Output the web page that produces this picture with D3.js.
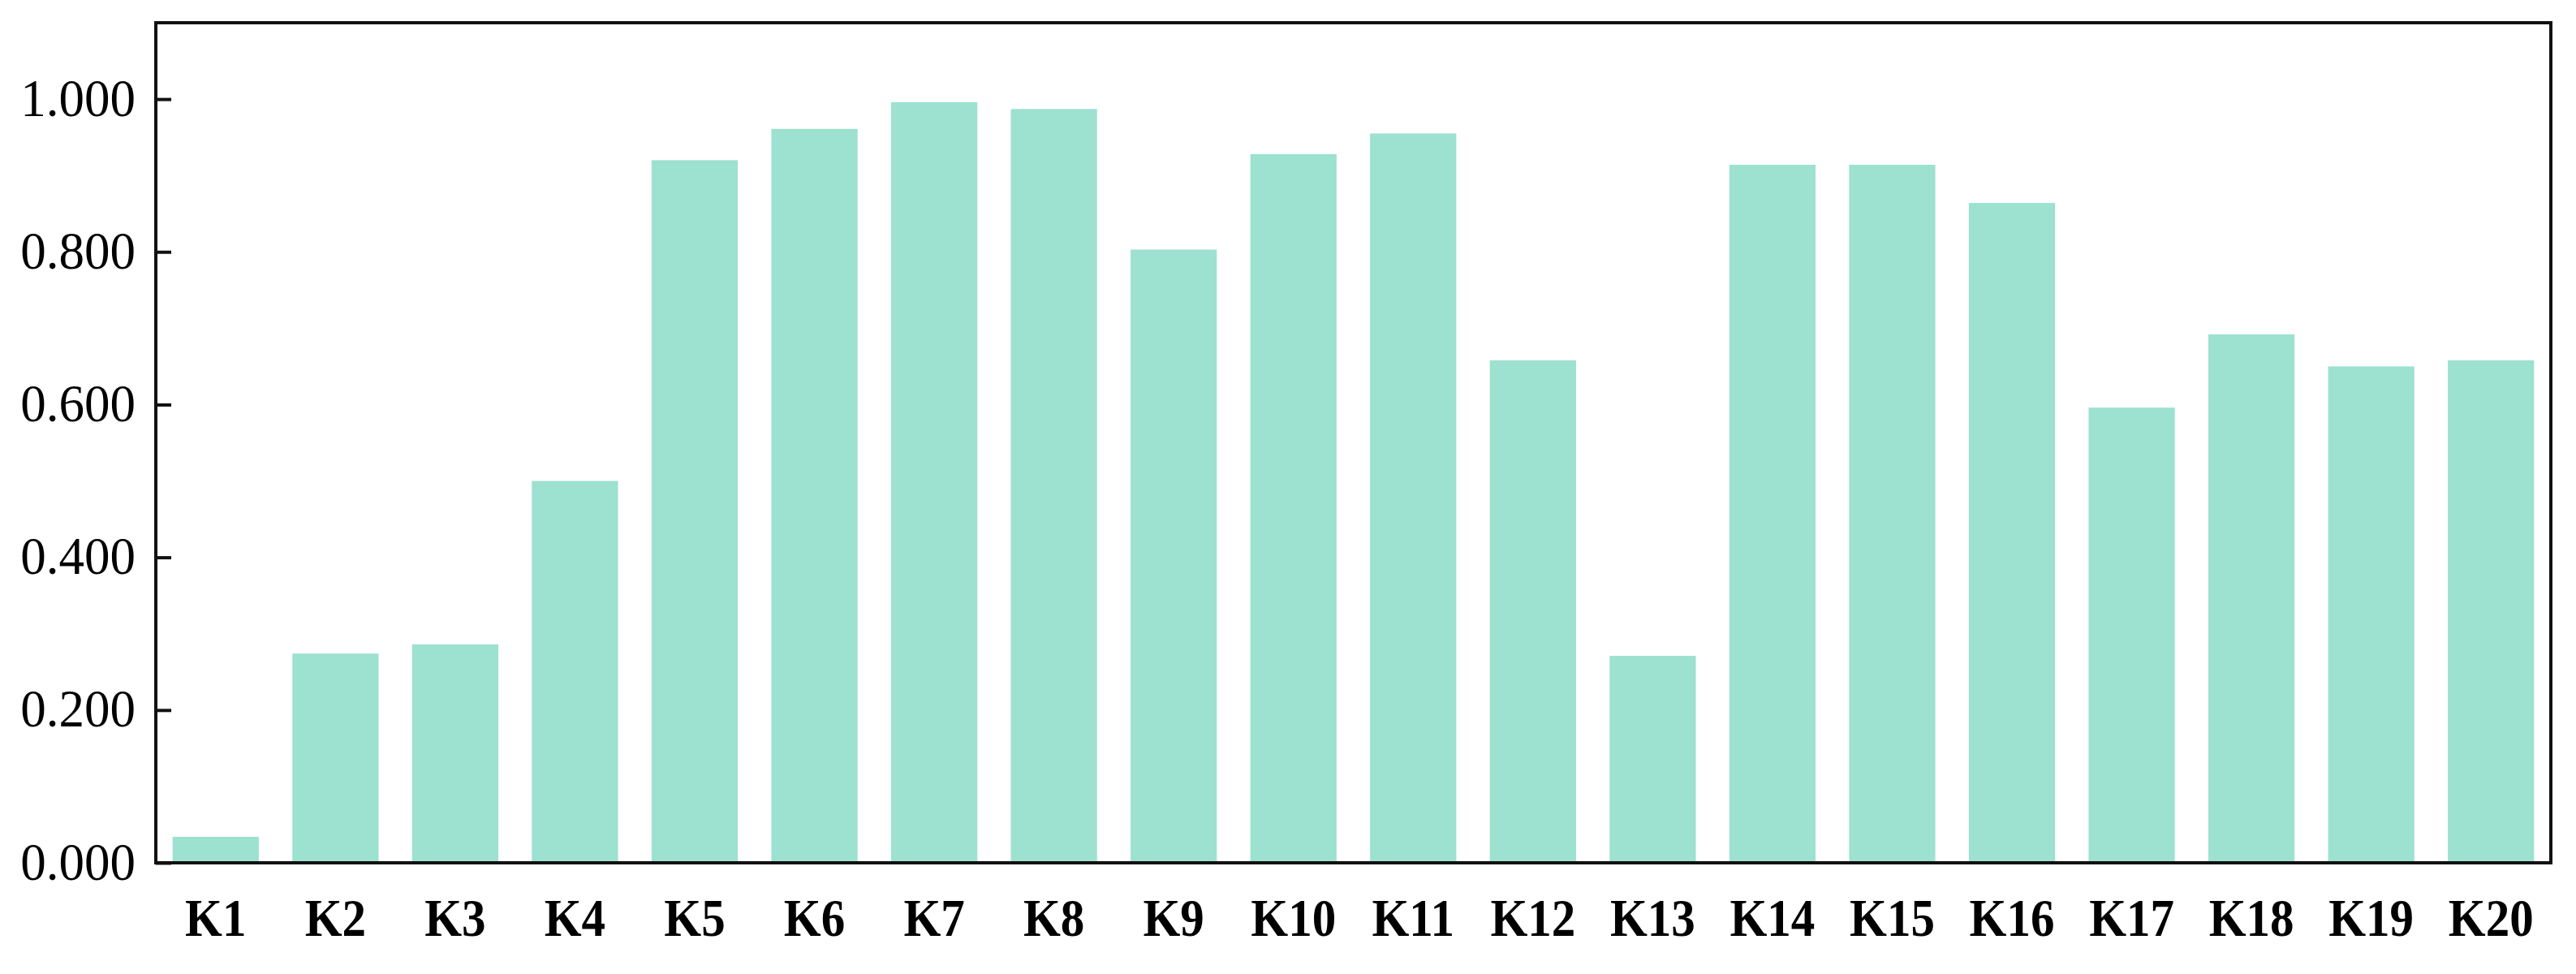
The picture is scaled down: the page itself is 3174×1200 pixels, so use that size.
<!DOCTYPE html>
<html>
<head>
<meta charset="utf-8">
<script src="https://cdn.jsdelivr.net/npm/d3@7"></script>
<style>
  html, body { margin: 0; padding: 0; background: #fff; }
  svg { display: block; }
</style>
</head>
<body>
<svg id="chart" width="3174" height="1200"></svg>
<script>
const categories = ["K1","K2","K3","K4","K5","K6","K7","K8","K9","K10","K11","K12","K13","K14","K15","K16","K17","K18","K19","K20"];
const values = [0.034,0.274,0.286,0.500,0.920,0.961,0.996,0.987,0.803,0.928,0.955,0.658,0.271,0.914,0.914,0.864,0.596,0.692,0.650,0.658];
const yTicks = [0, 0.2, 0.4, 0.6, 0.8, 1.0];

const W = 3174, H = 1200;
const m = { left: 192, right: 3143, top: 28, bottom: 1063 };
const svg = d3.select("#chart");

const x = d3.scaleBand().domain(categories).range([m.left, m.right]).paddingInner(0.28).paddingOuter(0.14);
const y = d3.scaleLinear().domain([0, 1.1]).range([m.bottom, m.top]);

svg.append("g").selectAll("rect").data(categories).join("rect")
  .attr("x", d => x(d))
  .attr("y", (d, i) => y(values[i]))
  .attr("width", x.bandwidth())
  .attr("height", (d, i) => y(0) - y(values[i]))
  .attr("fill", "#9de1d0");

// Left axis
const yAxis = svg.append("g").attr("transform", `translate(${m.left},0)`)
  .call(d3.axisLeft(y).tickValues(yTicks).tickFormat(d3.format(".3f")).tickSizeInner(-19).tickSizeOuter(0).tickPadding(25));
yAxis.select(".domain").remove();
yAxis.selectAll(".tick line").attr("stroke", "#111").attr("stroke-width", 4);
yAxis.selectAll(".tick text")
  .attr("font-family", "Liberation Serif, Times New Roman, serif")
  .attr("font-size", 63).attr("fill", "#000")
  .attr("dy", 0).attr("y", 20 / 1.05)
  .attr("transform", "scale(1,1.05)");

// Bottom axis
const xAxis = svg.append("g").attr("transform", `translate(0,${m.bottom})`)
  .call(d3.axisBottom(x).tickSize(0).tickPadding(42));
xAxis.select(".domain").remove();
xAxis.selectAll(".tick text")
  .attr("font-family", "Liberation Serif, Times New Roman, serif")
  .attr("font-size", 59).attr("font-weight", "bold").attr("fill", "#000")
  .attr("dy", 0).attr("y", 90 / 1.1)
  .attr("transform", "scale(1,1.1)");

// Frame
svg.append("rect")
  .attr("x", m.left).attr("y", m.top)
  .attr("width", m.right - m.left).attr("height", m.bottom - m.top)
  .attr("fill", "none").attr("stroke", "#111").attr("stroke-width", 4);
</script>
</body>
</html>
